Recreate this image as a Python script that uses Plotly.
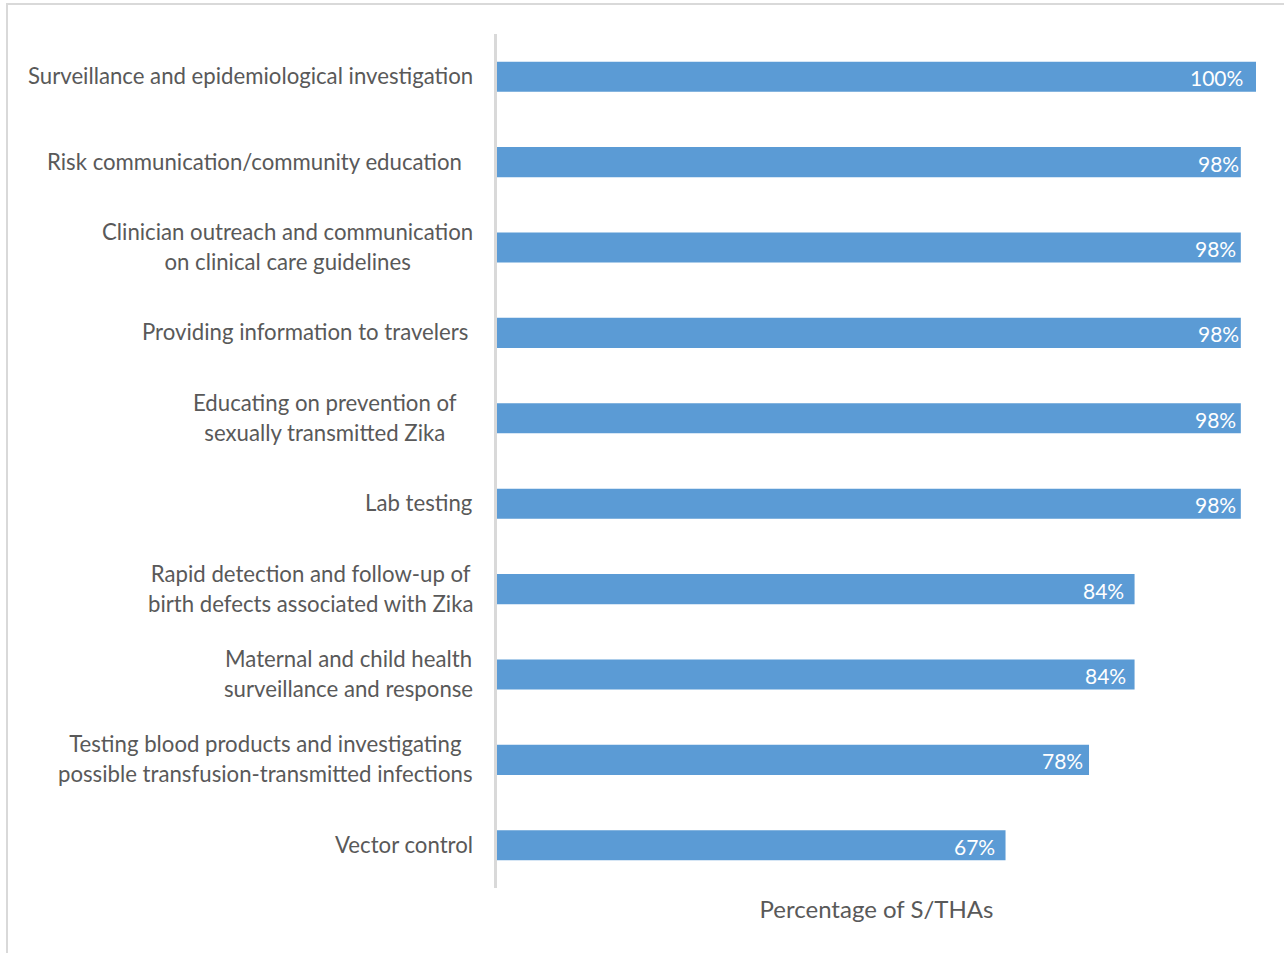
import plotly.graph_objects as go

# Activities reported by state/territorial health agencies (top to bottom)
categories = [
    "Surveillance and epidemiological investigation",
    "Risk communication/community education",
    "Clinician outreach and communication<br>on clinical care guidelines",
    "Providing information to travelers",
    "Educating on prevention of<br>sexually transmitted Zika",
    "Lab testing",
    "Rapid detection and follow-up of<br>birth defects associated with Zika",
    "Maternal and child health<br>surveillance and response",
    "Testing blood products and investigating<br>possible transfusion-transmitted infections",
    "Vector control",
]
percentages = [100, 98, 98, 98, 98, 98, 84, 84, 78, 67]
value_labels = [f"{v}%" for v in percentages]
axis_title = "Percentage of S/THAs"

# text placement tweaks (pixels)
category_label_nudge = [0, -11, 0, -5, -16, 0, 0, 0, 0, 0]
value_label_nudge = [-11, 0, -3, 0, -3, -3, -9, -7, -4, -9]

BAR_COLOR = "#5B9BD5"
TEXT_COLOR = "#595959"
LINE_COLOR = "#D9D9D9"
FONT = "Lato, 'Open Sans', sans-serif"
LABEL_SIZE = 22.2

W, H = 1284, 953
L, R, T, B = 497, 28, 34, 65
plot_w = W - L - R
plot_h = H - T - B

fig = go.Figure(
    go.Bar(
        x=percentages,
        y=categories,
        orientation="h",
        marker=dict(color=BAR_COLOR, line=dict(width=0)),
        hoverinfo="skip",
    )
)

annotations = []
# value labels, right-aligned inside each bar end
for cat, v, lab, dx in zip(categories, percentages, value_labels, value_label_nudge):
    annotations.append(dict(
        x=v, y=cat, xref="x", yref="y", text=lab, showarrow=False,
        xanchor="right", yanchor="middle", xshift=dx, yshift=-1,
        font=dict(family=FONT, size=21, color="white"),
    ))

# category labels: centred lines, block right-aligned next to the axis.
# The outer font size sets the line pitch; the inner span sets glyph size.
for cat, dx in zip(categories, category_label_nudge):
    lines = cat.split("<br>")
    txt = "<br>".join(
        f"<span style='font-size:{LABEL_SIZE}px'>{ln}</span>" for ln in lines
    )
    annotations.append(dict(
        x=0, y=cat, xref="paper", yref="y", text=txt, showarrow=False,
        xanchor="right", yanchor="middle", align="center",
        xshift=-22 + dx, yshift=1,
        font=dict(family=FONT, size=23, color=TEXT_COLOR),
    ))

fig.update_layout(
    width=W, height=H,
    margin=dict(l=L, r=R, t=T, b=B, autoexpand=False),
    paper_bgcolor="white", plot_bgcolor="white",
    bargap=0.648,
    showlegend=False,
    font=dict(family=FONT, color=TEXT_COLOR),
    xaxis=dict(
        range=[0, 100], showgrid=False, zeroline=False, showline=False,
        showticklabels=False, ticks="", fixedrange=True,
        title=dict(text=axis_title, standoff=13,
                   font=dict(family=FONT, size=24, color=TEXT_COLOR)),
    ),
    yaxis=dict(
        autorange="reversed", showgrid=False, zeroline=False,
        showline=True, linecolor=LINE_COLOR, linewidth=3,
        showticklabels=False, ticks="", fixedrange=True,
    ),
    annotations=annotations,
    shapes=[dict(
        type="rect", xref="paper", yref="paper",
        x0=(7 - L) / plot_w, x1=(W + 10 - L) / plot_w,
        y0=1 - (H + 10 - T) / plot_h, y1=1 - (4 - T) / plot_h,
        line=dict(color=LINE_COLOR, width=2), fillcolor="rgba(0,0,0,0)",
        layer="below",
    )],
)

fig.write_html("out.html")
